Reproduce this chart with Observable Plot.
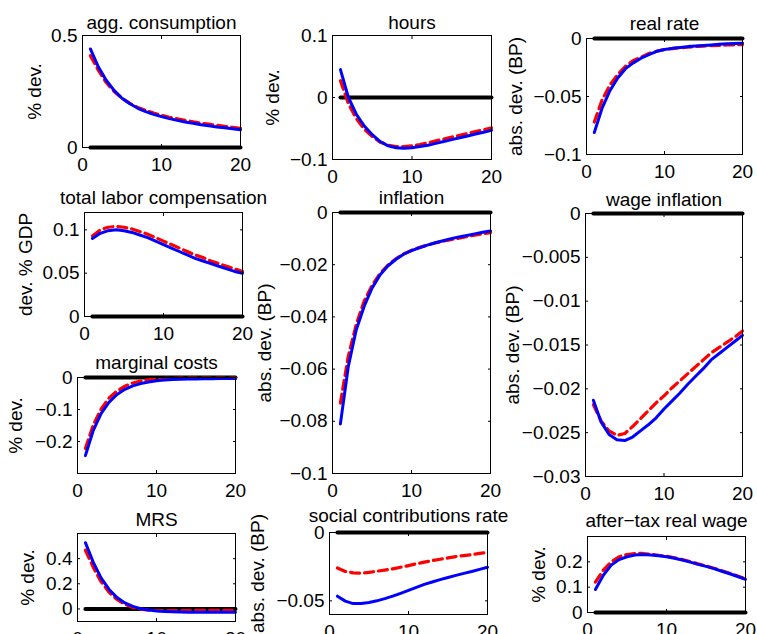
<!DOCTYPE html>
<html><head><meta charset="utf-8">
<script src="https://cdn.jsdelivr.net/npm/d3@7"></script>
<script src="https://cdn.jsdelivr.net/npm/@observablehq/plot@0.6"></script>
<style>
html,body{margin:0;padding:0;background:#fff;}
#fig{position:relative;width:757px;height:634px;overflow:hidden;background:#fff;}
#fig svg{position:absolute;overflow:visible;}
</style></head><body><div id="fig"></div>
<script>
// ---- data ----
const periods = d3.range(1, 21);
const xTicks = [0, 10, 20];

const titles = ["agg. consumption", "hours", "real rate", "total labor compensation", "inflation",
  "wage inflation", "marginal costs", "MRS", "social contributions rate", "after\u2212tax real wage"];
const yLabels = ["% dev.", "% dev.", "abs. dev. (BP)", "dev. % GDP", "abs. dev. (BP)",
  "abs. dev. (BP)", "% dev.", "% dev.", "abs. dev. (BP)", "% dev."];

const consBlue = [0.44,0.36,0.30,0.255,0.22,0.195,0.175,0.16,0.148,0.138,0.129,0.121,0.114,0.108,0.102,0.097,0.092,0.088,0.084,0.079];
const consRed  = [0.41,0.345,0.29,0.25,0.22,0.197,0.179,0.165,0.154,0.144,0.135,0.128,0.121,0.115,0.109,0.104,0.099,0.094,0.09,0.086];

const hoursBlue = [0.045,0.0,-0.027,-0.046,-0.06,-0.071,-0.078,-0.081,-0.082,-0.081,-0.079,-0.077,-0.074,-0.071,-0.068,-0.065,-0.062,-0.059,-0.056,-0.053];
const hoursRed  = [0.027,-0.01,-0.034,-0.051,-0.063,-0.072,-0.077,-0.079,-0.079,-0.078,-0.076,-0.073,-0.07,-0.067,-0.064,-0.061,-0.058,-0.055,-0.052,-0.049];

const rrBlue = [-0.081,-0.06,-0.045,-0.034,-0.026,-0.021,-0.017,-0.014,-0.011,-0.0095,-0.0085,-0.0077,-0.007,-0.0065,-0.006,-0.0055,-0.005,-0.0046,-0.0043,-0.004];
const rrRed  = [-0.072,-0.053,-0.04,-0.031,-0.024,-0.019,-0.016,-0.013,-0.011,-0.0095,-0.0087,-0.008,-0.0074,-0.0069,-0.0065,-0.0062,-0.0059,-0.0056,-0.0054,-0.0052];

const tlcBlue = [0.09,0.096,0.099,0.1,0.099,0.097,0.094,0.091,0.087,0.083,0.079,0.075,0.071,0.067,0.064,0.061,0.058,0.055,0.052,0.05];
const tlcRed  = [0.093,0.1,0.103,0.104,0.103,0.101,0.098,0.095,0.091,0.087,0.083,0.079,0.075,0.071,0.068,0.064,0.061,0.058,0.055,0.052];

const inflBlue = [-0.081,-0.059,-0.045,-0.036,-0.029,-0.024,-0.0205,-0.018,-0.016,-0.0146,-0.0135,-0.0125,-0.0116,-0.0108,-0.01,-0.0094,-0.0088,-0.0082,-0.0076,-0.0071];
const inflRed  = [-0.073,-0.055,-0.043,-0.034,-0.028,-0.0235,-0.0202,-0.0178,-0.0159,-0.0145,-0.0134,-0.0125,-0.0117,-0.011,-0.0104,-0.0098,-0.0092,-0.0087,-0.0082,-0.0077];

const wageBlue = [-0.0213,-0.0238,-0.0252,-0.0258,-0.0259,-0.0255,-0.0248,-0.0241,-0.0233,-0.0223,-0.0214,-0.0205,-0.0195,-0.0186,-0.0177,-0.0167,-0.016,-0.0153,-0.0146,-0.0139];
const wageRed  = [-0.0218,-0.0237,-0.0248,-0.0253,-0.0251,-0.0243,-0.0234,-0.0225,-0.0216,-0.0208,-0.0199,-0.0191,-0.0183,-0.0175,-0.0167,-0.0159,-0.0153,-0.0147,-0.0141,-0.0134];

const mcBlue = [-0.244,-0.165,-0.112,-0.077,-0.053,-0.037,-0.026,-0.019,-0.014,-0.01,-0.008,-0.0065,-0.0055,-0.005,-0.0045,-0.004,-0.004,-0.0035,-0.0035,-0.0035];
const mcRed  = [-0.222,-0.148,-0.098,-0.064,-0.042,-0.027,-0.017,-0.011,-0.007,-0.0045,-0.003,-0.0025,-0.002,-0.002,-0.002,-0.002,-0.002,-0.002,-0.002,-0.002];

const mrsBlue = [0.527,0.37,0.245,0.155,0.09,0.048,0.02,0.002,-0.009,-0.016,-0.02,-0.023,-0.025,-0.026,-0.026,-0.026,-0.026,-0.026,-0.026,-0.026];
const mrsRed  = [0.467,0.33,0.215,0.133,0.075,0.037,0.012,-0.002,-0.009,-0.012,-0.013,-0.013,-0.013,-0.013,-0.012,-0.012,-0.012,-0.011,-0.011,-0.011];

const scrBlue = [-0.0466,-0.0502,-0.052,-0.052,-0.0512,-0.05,-0.0484,-0.0466,-0.0445,-0.0423,-0.0401,-0.038,-0.0362,-0.0345,-0.0329,-0.0314,-0.0299,-0.0285,-0.027,-0.0254];
const scrRed  = [-0.026,-0.0285,-0.0295,-0.0297,-0.0292,-0.0283,-0.0275,-0.0266,-0.0254,-0.0242,-0.0229,-0.0217,-0.0206,-0.0196,-0.0186,-0.0176,-0.0169,-0.0162,-0.0153,-0.0145];

const atwBlue = [0.091,0.147,0.187,0.209,0.22,0.227,0.229,0.227,0.224,0.22,0.214,0.207,0.199,0.19,0.182,0.173,0.163,0.153,0.142,0.131];
const atwRed  = [0.12,0.167,0.2,0.22,0.229,0.233,0.233,0.23,0.226,0.222,0.216,0.209,0.201,0.192,0.184,0.175,0.165,0.155,0.144,0.133];

const yDomains = [[0,0.5],[-0.1,0.1],[-0.1,0],[0,0.12],[-0.1,0],[-0.03,0],[-0.3,0],[-0.1,0.6],[-0.06,0],[0,0.3]];
const yTicks = [[0,0.5],[-0.1,0,0.1],[-0.1,-0.05,0],[0,0.05,0.1],[-0.1,-0.08,-0.06,-0.04,-0.02,0],
  [-0.03,-0.025,-0.02,-0.015,-0.01,-0.005,0],[-0.2,-0.1,0],[0,0.2,0.4],[-0.05,0],[0,0.1,0.2]];
const blues = [consBlue,hoursBlue,rrBlue,tlcBlue,inflBlue,wageBlue,mcBlue,mrsBlue,scrBlue,atwBlue];
const reds  = [consRed,hoursRed,rrRed,tlcRed,inflRed,wageRed,mcRed,mrsRed,scrRed,atwRed];

// ---- layout (axes box in page pixels: left, top, right, bottom) ----
const boxes = [[82,35,240,147],[332,35,491,159],[586,38,742,154],[84,212,242,316],[332,212,490,473],
  [585,213,742,476],[77,377,235,473],[77,533,235,621],[329,532,487,614],[587,536,745,612]];
const titleDy = [-20,-20,-22,-22,-22,-21,-22,-21,-24,-23];
const ylabDx = [-48,-60,-71,-59,-68,-73,-62,-50,-72,-49];

const fmt = d => d === 0 ? "0" : String(d).replace("-", "\u2212");
const blank = () => "";
const ML = 90, MR = 14, MT = 36, MB = 36;
const fig = document.getElementById("fig");

titles.forEach((title, k) => {
  const [L, T, R, B] = boxes[k];
  const data = periods.map((t, i) => ({t, blue: blues[k][i], red: reds[k][i]}));
  const svg = Plot.plot({
    width: R - L + ML + MR, height: B - T + MT + MB,
    marginLeft: ML, marginRight: MR, marginTop: MT, marginBottom: MB,
    style: {fontFamily: "'Liberation Sans', Arial, Helvetica, sans-serif", fontSize: "19px", color: "black", background: "transparent", overflow: "visible"},
    x: {domain: [0, 20]},
    y: {domain: yDomains[k]},
    marks: [
      Plot.lineY(data, {x: "t", y: 0, stroke: "black", strokeWidth: 4}),
      Plot.lineY(data, {x: "t", y: "red", stroke: "#ff0000", strokeWidth: 3.2, strokeDasharray: "9,5"}),
      Plot.lineY(data, {x: "t", y: "blue", stroke: "#0000ff", strokeWidth: 3}),
      Plot.frame({stroke: "black", strokeWidth: 1}),
      Plot.axisX({ticks: xTicks, tickSize: -3, tickPadding: 13, tickFormat: fmt, label: null}),
      Plot.axisX({anchor: "top", ticks: xTicks, tickSize: -3, tickFormat: blank, label: null}),
      Plot.axisY({ticks: yTicks[k], tickSize: -3, tickPadding: 8, tickFormat: fmt, label: null}),
      Plot.axisY({anchor: "right", ticks: yTicks[k], tickSize: -3, tickFormat: blank, label: null}),
      Plot.text([title], {frameAnchor: "top", dy: titleDy[k], text: d => d}),
      Plot.text([yLabels[k]], {frameAnchor: "left", textAnchor: "middle", rotate: -90, dx: ylabDx[k], text: d => d})
    ]
  });
  svg.style.left = (L - ML) + "px";
  svg.style.top = (T - MT) + "px";
  fig.appendChild(svg);
});
</script></body></html>
